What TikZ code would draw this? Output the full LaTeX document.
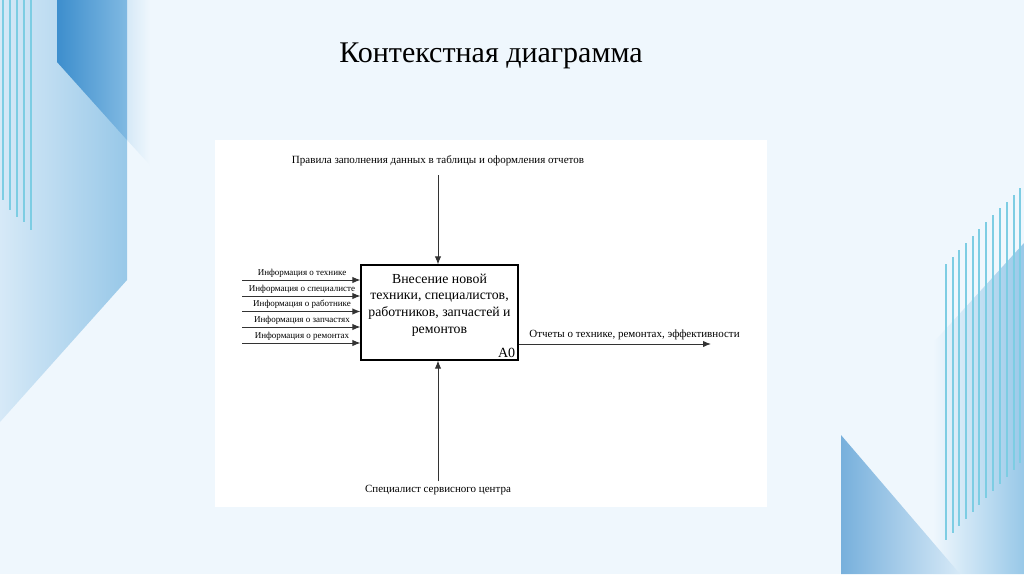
\documentclass[tikz,border=0pt]{standalone}
\usepackage{fontspec}
\setmainfont{Liberation Serif}
\usetikzlibrary{arrows.meta}
\definecolor{pagebg}{HTML}{EFF7FD}
\definecolor{stripe}{HTML}{7DCDE3}
\definecolor{darkband}{HTML}{3D8ECD}
\definecolor{midband}{HTML}{80B9E2}
\definecolor{lightband}{HTML}{D6E9F7}
\definecolor{paleband}{HTML}{98C8E8}
\definecolor{wire}{HTML}{333333}

\tikzset{
  a0box/.style={draw, line width=0.6pt, fill=white, minimum width=78.5pt, minimum height=47.5pt, inner sep=0pt},
  boxtext/.style={align=center, inner sep=0pt, font=\fontsize{6.9}{8.4}\selectfont},
  inlabel/.style={anchor=base, inner sep=0pt, font=\fontsize{4.5}{5}\selectfont},
  sidelabel/.style={inner sep=0pt, font=\fontsize{5.5}{7}\selectfont},
  wirearrow/.style={-{Latex[length=4pt,width=3.2pt]}, line width=0.5pt, draw=wire, fill=black}
}

\begin{document}
\begin{tikzpicture}[x=0.5pt, y=-0.5pt]
\useasboundingbox (0,0) rectangle (1024,574);
\fill [pagebg] (0,0) rectangle (1024,574);

% left decoration
\shade [left color=lightband, right color=paleband] (0,0) -- (127,0) -- (127,280) -- (0,422) -- cycle;
\shade [left color=lightband, right color=pagebg] (127,0) -- (150,0) -- (150,165) -- (127,140) -- cycle;
\shade [left color=darkband, right color=midband] (57,0) -- (127,0) -- (127,140) -- (57,62) -- cycle;
\draw [stripe, line width=0.6pt] (3,0) -- (3,200);
\draw [stripe, line width=0.6pt] (10,0) -- (10,210);
\draw [stripe, line width=0.6pt] (17,0) -- (17,217);
\draw [stripe, line width=0.6pt] (24,0) -- (24,222);
\draw [stripe, line width=0.6pt] (31,0) -- (31,230);

% right decoration
\shade [left color=pagebg, right color=paleband] (1024,243) -- (933,343) -- (933,574) -- (1024,574) -- cycle;
\shade [left color=darkband!70!white, right color=lightband] (841,435) -- (841,574) -- (960,574) -- cycle;
\draw [stripe, line width=0.6pt] (946,264) -- (946,540);
\draw [stripe, line width=0.6pt] (953,257) -- (953,533);
\draw [stripe, line width=0.6pt] (959,250) -- (959,526);
\draw [stripe, line width=0.6pt] (966,243) -- (966,519);
\draw [stripe, line width=0.6pt] (973,236) -- (973,512);
\draw [stripe, line width=0.6pt] (979,229) -- (979,505);
\draw [stripe, line width=0.6pt] (986,222) -- (986,498);
\draw [stripe, line width=0.6pt] (993,215) -- (993,491);
\draw [stripe, line width=0.6pt] (1000,208) -- (1000,484);
\draw [stripe, line width=0.6pt] (1007,202) -- (1007,477);
\draw [stripe, line width=0.6pt] (1014,195) -- (1014,470);
\draw [stripe, line width=0.6pt] (1020,188) -- (1020,463);

% title
\node [anchor=base, inner sep=0pt, font=\fontsize{15}{18}\selectfont] (title) at (491,62) {Контекстная диаграмма};

% panel
\fill [white] (215,140) rectangle (767,507);

% A0 block
\node [a0box] (a0) at (439.5,312.5) {};
\node [boxtext] (a0text) at (439.5,305) {Внесение новой\\техники, специалистов,\\работников, запчастей и\\ремонтов};
\node [anchor=south east, inner sep=1.5pt, font=\fontsize{7}{8}\selectfont] (a0num) at (a0.south east) {A0};

% control
\node [sidelabel, anchor=base] (ctrl) at (438,163) {Правила заполнения данных в таблицы и оформления отчетов};
\coordinate (ctrlend) at (438,175);
\draw [wirearrow] (ctrlend) -- (ctrlend |- a0.north);

% mechanism
\node [sidelabel] (mech) at (438,490) {Специалист сервисного центра};
\coordinate (mechend) at (438,481);
\draw [wirearrow] (mechend) -- (mechend |- a0.south);

% inputs
\coordinate (in1) at (242,280);
\coordinate (in2) at (242,296);
\coordinate (in3) at (242,311.5);
\coordinate (in4) at (242,327);
\coordinate (in5) at (242,343);
\node [inlabel] (inlab1) at (302,275) {Информация о технике};
\node [inlabel] (inlab2) at (302,291) {Информация о специалисте};
\node [inlabel] (inlab3) at (302,306.5) {Информация о работнике};
\node [inlabel] (inlab4) at (302,322) {Информация о запчастях};
\node [inlabel] (inlab5) at (302,338) {Информация о ремонтах};
\draw [wirearrow] (in1) -- (in1 -| a0.west);
\draw [wirearrow] (in2) -- (in2 -| a0.west);
\draw [wirearrow] (in3) -- (in3 -| a0.west);
\draw [wirearrow] (in4) -- (in4 -| a0.west);
\draw [wirearrow] (in5) -- (in5 -| a0.west);

% output
\coordinate (outend) at (711,344);
\node [sidelabel, anchor=base west] (outlab) at (529,337) {Отчеты о технике, ремонтах, эффективности};
\draw [wirearrow] (outend -| a0.east) -- (outend);
\end{tikzpicture}
\end{document}
